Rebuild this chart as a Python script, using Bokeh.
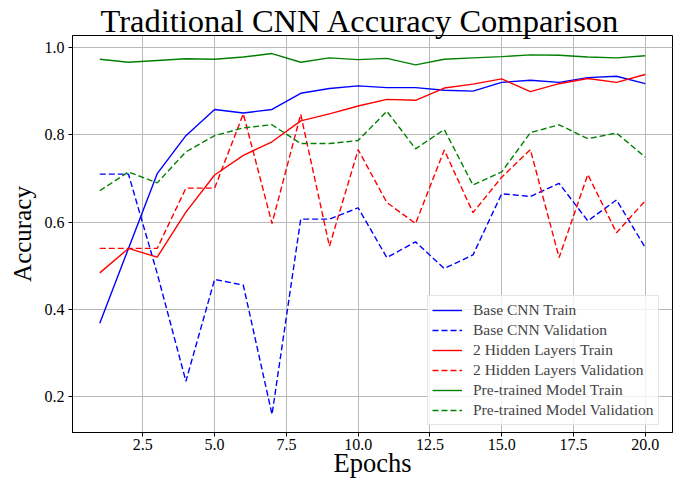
from bokeh.plotting import figure
from bokeh.models import FixedTicker, PrintfTickFormatter, Range1d
from bokeh.embed import file_html
from bokeh.resources import INLINE

epochs = list(range(1, 21))
base_train = [0.369, 0.540, 0.711, 0.798, 0.858, 0.850, 0.858, 0.895, 0.906, 0.912,
              0.908, 0.908, 0.902, 0.900, 0.920, 0.925, 0.920, 0.931, 0.934, 0.917]
base_val = [0.710, 0.710, 0.483, 0.236, 0.469, 0.456, 0.160, 0.607, 0.607, 0.633,
            0.519, 0.555, 0.494, 0.525, 0.665, 0.659, 0.689, 0.603, 0.651, 0.542]
hidden_train = [0.484, 0.540, 0.520, 0.623, 0.708, 0.753, 0.784, 0.832, 0.848, 0.866,
                0.881, 0.879, 0.907, 0.916, 0.928, 0.899, 0.917, 0.929, 0.920, 0.938]
hidden_val = [0.540, 0.540, 0.540, 0.678, 0.678, 0.848, 0.597, 0.847, 0.545, 0.766,
              0.645, 0.597, 0.765, 0.622, 0.703, 0.766, 0.519, 0.709, 0.576, 0.649]
pre_train = [0.973, 0.966, 0.970, 0.974, 0.973, 0.978, 0.986, 0.966, 0.976, 0.972,
             0.975, 0.960, 0.973, 0.976, 0.979, 0.983, 0.982, 0.978, 0.976, 0.981]
pre_val = [0.672, 0.715, 0.690, 0.761, 0.798, 0.816, 0.823, 0.780, 0.780, 0.787,
           0.854, 0.768, 0.812, 0.685, 0.715, 0.805, 0.823, 0.791, 0.804, 0.749]

x_ticks = [2.5, 5.0, 7.5, 10.0, 12.5, 15.0, 17.5, 20.0]
y_ticks = [0.2, 0.4, 0.6, 0.8, 1.0]

series = [
    ("Base CNN Train", base_train, "#0000ff", "solid"),
    ("Base CNN Validation", base_val, "#0000ff", "6 3"),
    ("2 Hidden Layers Train", hidden_train, "#ff0000", "solid"),
    ("2 Hidden Layers Validation", hidden_val, "#ff0000", "6 3"),
    ("Pre-trained Model Train", pre_train, "#008000", "solid"),
    ("Pre-trained Model Validation", pre_val, "#008000", "6 3"),
]

all_vals = [v for s in series for v in s[1]]
ymin, ymax = min(all_vals), max(all_vals)
ypad = 0.05 * (ymax - ymin)
xpad = 0.05 * (max(epochs) - min(epochs))

FONT = "Liberation Serif"

p = figure(width=681, height=485, output_backend="svg", toolbar_location=None,
           x_range=Range1d(min(epochs) - xpad, max(epochs) + xpad),
           y_range=Range1d(ymin - ypad, ymax + ypad),
           title="Traditional CNN Accuracy Comparison",
           min_border_left=72, min_border_right=9, min_border_top=35, min_border_bottom=53)

for label, vals, color, dash in series:
    p.line(epochs, vals, line_color=color, line_width=1.4, line_dash=dash, legend_label=label)

p.title.text_font = FONT
p.title.text_font_size = "32.5px"
p.title.text_font_style = "normal"
p.title.text_color = "#000000"
p.title.align = "left"
p.title.offset = 28
p.title.standoff = -6

p.xaxis.axis_label = "Epochs"
p.yaxis.axis_label = "Accuracy"
for ax in (p.xaxis, p.yaxis):
    ax.axis_label_text_font = FONT
    ax.axis_label_text_font_size = "25px"
    ax.axis_label_text_font_style = "normal"
    ax.axis_label_text_color = "#000000"
    ax.major_label_text_font = FONT
    ax.major_label_text_font_size = "16px"
    ax.major_label_text_color = "#000000"
    ax.axis_line_color = "#000000"
    ax.major_tick_line_color = "#000000"
    ax.major_tick_out = 4
    ax.major_tick_in = 0
    ax.minor_tick_line_color = None
p.xaxis.axis_label_text_font_size = "26.5px"
p.xaxis.major_label_standoff = 2
p.yaxis.major_label_standoff = 4
p.xaxis.axis_label_standoff = -5
p.yaxis.axis_label_standoff = 6

p.xaxis.ticker = FixedTicker(ticks=x_ticks)
p.yaxis.ticker = FixedTicker(ticks=y_ticks)
p.xaxis.formatter = PrintfTickFormatter(format="%.1f")
p.yaxis.formatter = PrintfTickFormatter(format="%.1f")

p.grid.grid_line_color = "#b8b8b8"
p.grid.grid_line_width = 1
p.outline_line_color = "#000000"
p.outline_line_width = 1
p.outline_line_alpha = 1

p.legend.location = (355, 7)
p.legend.margin = 0
p.legend.padding = 4
p.legend.spacing = 0
p.legend.glyph_width = 30
p.legend.glyph_height = 20
p.legend.label_height = 20
p.legend.label_standoff = 11
p.legend.label_text_font = FONT
p.legend.label_text_font_size = "15.5px"
p.legend.border_line_color = "#cccccc"
p.legend.background_fill_alpha = 0.8

open("out.html", "w").write(file_html(p, INLINE))
